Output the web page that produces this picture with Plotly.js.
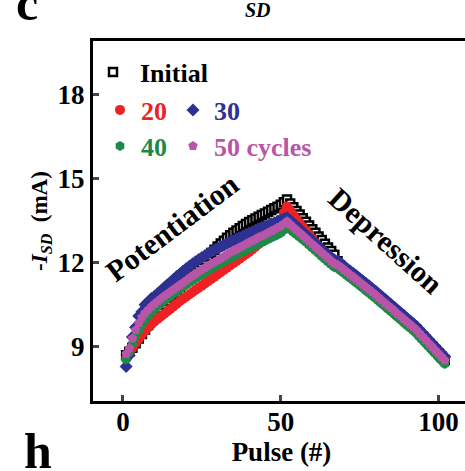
<!DOCTYPE html>
<html>
<head>
<meta charset="utf-8">
<script src="https://cdn.plot.ly/plotly-3.0.1.min.js"></script>
<style>
  html, body { margin: 0; padding: 0; background: #fff; overflow: hidden; }
  #chart { width: 480px; height: 471px; }
</style>
</head>
<body>
<div id="chart"></div>
<script>
// Source-drain current (-I_SD, mA) per pulse: potentiation pulses 1-52, depression 53-102
const pulseCount = 102;
const pulse = Array.from({ length: pulseCount }, (_, i) => i + 1);

const initial = [
  8.7, 8.82, 8.97, 9.13, 9.3, 9.46, 9.62, 9.78, 9.93, 10.08,
  10.22, 10.36, 10.5, 10.63, 10.76, 10.89, 11.02, 11.14, 11.26, 11.38,
  11.5, 11.62, 11.74, 11.86, 11.98, 12.1, 12.22, 12.34, 12.46, 12.57,
  12.68, 12.78, 12.88, 12.97, 13.06, 13.14, 13.22, 13.3, 13.37, 13.44,
  13.51, 13.57, 13.63, 13.69, 13.75, 13.81, 13.87, 13.93, 13.99, 14.06,
  14.15, 14.25,
  14.1, 13.97, 13.84, 13.71, 13.58, 13.45, 13.32, 13.19, 13.06, 12.93,
  12.8, 12.67, 12.54, 12.41, 12.28, 12.05, 11.88, 11.76, 11.67, 11.58,
  11.5, 11.41, 11.32, 11.23, 11.14, 11.05, 10.96, 10.87, 10.77, 10.67,
  10.58, 10.48, 10.39, 10.29, 10.19, 10.1, 10.0, 9.9, 9.81, 9.71,
  9.61, 9.49, 9.37, 9.25, 9.13, 9.01, 8.89, 8.77, 8.65, 8.53
];

const cycles20 = [
  8.6, 8.78, 8.95, 9.12, 9.27, 9.42, 9.56, 9.69, 9.8, 9.9,
  9.99, 10.08, 10.17, 10.26, 10.35, 10.44, 10.53, 10.62, 10.7, 10.78,
  10.86, 10.94, 11.02, 11.1, 11.18, 11.26, 11.34, 11.42, 11.5, 11.58,
  11.66, 11.74, 11.82, 11.9, 11.98, 12.06, 12.14, 12.22, 12.3, 12.38,
  12.47, 12.56, 12.65, 12.74, 12.84, 12.95, 13.07, 13.2, 13.35, 13.53,
  13.77, 14.0,
  13.85, 13.7, 13.55, 13.41, 13.27, 13.13, 12.99, 12.85, 12.71, 12.57,
  12.43, 12.3, 12.17, 12.05, 11.95, 11.9, 11.83, 11.74, 11.65, 11.56,
  11.48, 11.39, 11.3, 11.21, 11.12, 11.03, 10.94, 10.85, 10.75, 10.65,
  10.56, 10.46, 10.37, 10.27, 10.17, 10.08, 9.98, 9.88, 9.79, 9.69,
  9.59, 9.47, 9.35, 9.23, 9.11, 8.99, 8.87, 8.75, 8.63, 8.51
];

const cycles30 = [
  8.3, 8.7, 9.35, 9.7, 10.1, 10.25, 10.5, 10.6, 10.72, 10.8,
  10.9, 11.0, 11.1, 11.2, 11.3, 11.4, 11.5, 11.59, 11.69, 11.78,
  11.87, 11.95, 12.03, 12.11, 12.18, 12.25, 12.32, 12.39, 12.45, 12.51,
  12.57, 12.62, 12.68, 12.73, 12.79, 12.84, 12.89, 12.95, 13.0, 13.05,
  13.1, 13.15, 13.2, 13.24, 13.29, 13.33, 13.38, 13.42, 13.47, 13.51,
  13.56, 13.6,
  13.5, 13.4, 13.3, 13.2, 13.09, 12.99, 12.88, 12.78, 12.68, 12.58,
  12.48, 12.38, 12.28, 12.19, 12.1, 12.06, 11.98, 11.88, 11.79, 11.7,
  11.62, 11.53, 11.44, 11.35, 11.26, 11.17, 11.08, 10.99, 10.89, 10.79,
  10.7, 10.6, 10.51, 10.41, 10.31, 10.22, 10.12, 10.02, 9.93, 9.83,
  9.73, 9.61, 9.49, 9.37, 9.25, 9.13, 9.01, 8.89, 8.77, 8.65
];

const cycles40 = [
  8.55, 8.8, 9.1, 9.35, 9.58, 9.78, 9.95, 10.1, 10.22, 10.33,
  10.43, 10.53, 10.62, 10.71, 10.8, 10.88, 10.96, 11.04, 11.12, 11.2,
  11.28, 11.35, 11.43, 11.5, 11.57, 11.64, 11.71, 11.78, 11.84, 11.91,
  11.97, 12.03, 12.09, 12.15, 12.21, 12.27, 12.33, 12.38, 12.44, 12.5,
  12.55, 12.61, 12.66, 12.72, 12.77, 12.83, 12.88, 12.94, 12.99, 13.05,
  13.15, 13.25,
  13.17, 13.08, 12.99, 12.9, 12.81, 12.72, 12.62, 12.52, 12.42, 12.32,
  12.22, 12.12, 12.02, 11.92, 11.83, 11.79, 11.71, 11.62, 11.53, 11.44,
  11.36, 11.27, 11.18, 11.09, 11.0, 10.91, 10.82, 10.73, 10.63, 10.53,
  10.44, 10.34, 10.25, 10.15, 10.05, 9.96, 9.86, 9.76, 9.67, 9.57,
  9.47, 9.35, 9.23, 9.11, 8.99, 8.87, 8.75, 8.63, 8.51, 8.39
];

const cycles50 = [
  8.75, 8.95, 9.3, 9.6, 9.85, 10.05, 10.2, 10.32, 10.43, 10.53,
  10.62, 10.71, 10.8, 10.88, 10.96, 11.04, 11.12, 11.2, 11.28, 11.36,
  11.45, 11.53, 11.6, 11.68, 11.75, 11.82, 11.89, 11.96, 12.02, 12.08,
  12.15, 12.22, 12.29, 12.36, 12.42, 12.48, 12.54, 12.6, 12.66, 12.72,
  12.78, 12.84, 12.9, 12.95, 13.0, 13.06, 13.12, 13.18, 13.24, 13.3,
  13.38, 13.47,
  13.36, 13.26, 13.16, 13.06, 12.96, 12.86, 12.76, 12.66, 12.56, 12.46,
  12.36, 12.26, 12.16, 12.06, 11.97, 11.92, 11.84, 11.75, 11.66, 11.57,
  11.49, 11.4, 11.31, 11.22, 11.13, 11.04, 10.95, 10.86, 10.76, 10.66,
  10.57, 10.47, 10.38, 10.28, 10.18, 10.09, 9.99, 9.89, 9.8, 9.7,
  9.6, 9.48, 9.36, 9.24, 9.12, 9.0, 8.88, 8.76, 8.64, 8.52
];

const xTicks = [0, 50, 100];
const yTicks = [9, 12, 15, 18];

const SERIF = '"Liberation Serif", "Times New Roman", serif';
const colors = {
  c20: '#ee2124',
  c30: '#2e3192',
  c40: '#1f8a47',
  c50: '#b955a8'
};

// plot frame in page pixels, used to place legends and labels
const W = 480, H = 471;
const M = { l: 93, r: 10, t: 41, b: 70 };
const PW = W - M.l - M.r, PH = H - M.t - M.b;
const px = x => (x - M.l) / PW;
const py = y => (H - M.b - y) / PH;

function series(y, name, color, symbol, legend, extra) {
  return Object.assign({
    type: 'scatter', mode: 'markers', x: pulse, y: y, name: name,
    legend: legend,
    marker: { color: color, size: 10, symbol: symbol, line: { width: 0 } }
  }, extra || {});
}

const traces = [
  series(initial, 'Initial', '#ffffff', 'square', 'legend', {
    marker: { color: '#ffffff', size: 8, symbol: 'square', line: { color: '#000', width: 2.5 } }
  }),
  series(cycles20, '<span style="color:' + colors.c20 + '">20</span>', colors.c20, 'circle', 'legend2'),
  series(cycles30, '<span style="color:' + colors.c30 + '">30</span>', colors.c30, 'diamond', 'legend2'),
  series(cycles40, '<span style="color:' + colors.c40 + '">40</span>', colors.c40, 'hexagon', 'legend3'),
  series(cycles50, '<span style="color:' + colors.c50 + '">50 cycles</span>', colors.c50, 'pentagon', 'legend3')
];

const bold = size => ({ family: SERIF, size: size, color: '#000', weight: 'bold' });

const legendBase = {
  bgcolor: 'rgba(0,0,0,0)', borderwidth: 0,
  font: bold(26),
  xanchor: 'left', yanchor: 'middle', tracegroupgap: 0
};

const layout = {
  width: W, height: H,
  margin: M,
  paper_bgcolor: '#fff', plot_bgcolor: '#fff',
  showlegend: true,
  legend: Object.assign({}, legendBase, { x: px(86), y: py(72), itemwidth: 44 }),
  legend2: Object.assign({}, legendBase, { x: px(99), y: py(110), itemwidth: 32, orientation: 'h' }),
  legend3: Object.assign({}, legendBase, { x: px(99), y: py(146), itemwidth: 32, orientation: 'h' }),
  xaxis: {
    range: [-9.5, 110], tickvals: xTicks, ticks: 'inside', ticklen: 6, tickwidth: 3,
    showline: true, linewidth: 3, linecolor: '#000', mirror: true,
    showgrid: false, zeroline: false, ticklabelstandoff: -5,
    tickfont: bold(27),
    title: { text: 'Pulse (#)', font: bold(27), standoff: 0 }
  },
  yaxis: {
    range: [7.07, 19.89], tickvals: yTicks, ticks: 'inside', ticklen: 6, tickwidth: 3,
    showline: true, linewidth: 3, linecolor: '#000', mirror: true,
    showgrid: false, zeroline: false,
    tickfont: bold(27),
    title: { text: '-<i>I<sub>SD</sub></i>  (mA)', font: bold(23), standoff: 4 }
  },
  annotations: [
    { text: 'Potentiation', xref: 'paper', yref: 'paper', x: px(172), y: py(228),
      xanchor: 'center', yanchor: 'middle',
      showarrow: false, textangle: -37, font: bold(30) },
    { text: 'Depression', xref: 'paper', yref: 'paper', x: px(386), y: py(240),
      xanchor: 'center', yanchor: 'middle',
      showarrow: false, textangle: 42, font: bold(30) },
    // panel letters and the neighbouring panel's axis label along the edges
    { text: 'c', xref: 'paper', yref: 'paper', x: px(27), y: py(33), xanchor: 'center', yanchor: 'bottom',
      showarrow: false, font: bold(50) },
    { text: 'h', xref: 'paper', yref: 'paper', x: px(38), y: py(421), xanchor: 'center', yanchor: 'top',
      showarrow: false, font: bold(50) },
    { text: '<i>SD</i>', xref: 'paper', yref: 'paper', x: px(258), y: py(23), xanchor: 'center', yanchor: 'bottom',
      showarrow: false, font: bold(20) }
  ]
};

Plotly.newPlot('chart', traces, layout, { displayModeBar: false, staticPlot: true });
</script>
</body>
</html>
